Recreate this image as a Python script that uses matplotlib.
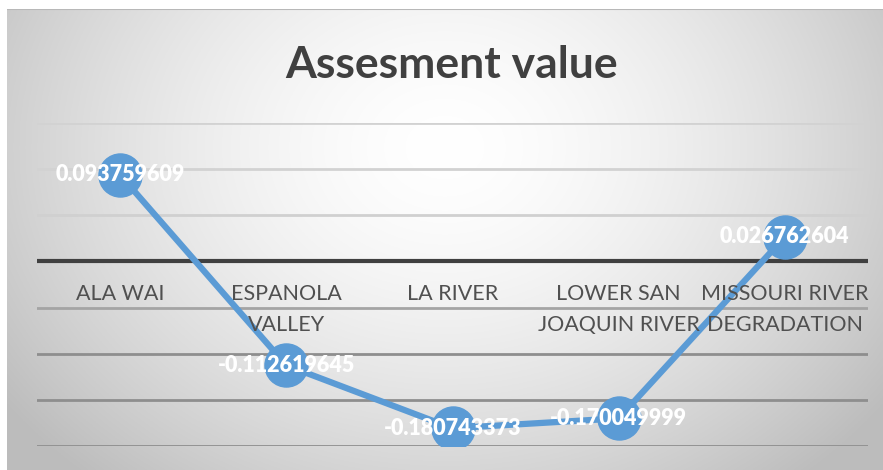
import numpy as np
import matplotlib
matplotlib.use("Agg")
import matplotlib.pyplot as plt
import matplotlib.transforms as mtransforms

# chart data
categories = ["ALA WAI", "ESPANOLA\nVALLEY", "LA RIVER",
              "LOWER SAN\nJOAQUIN RIVER", "MISSOURI RIVER\nDEGRADATION"]
values = [0.093759609, -0.112619645, -0.180743373, -0.170049999, 0.026762604]
value_labels = ["0.093759609", "-0.112619645", "-0.180743373",
                "-0.170049999", "0.026762604"]
grid_levels = [0.15, 0.10, 0.05, -0.05, -0.10, -0.15, -0.20]
grid_colors = ["#d2d2d2", "#d2d2d2", "#d0d0d0", "#a4a4a4", "#8e8e8e", "#8e8e8e", "#8e8e8e"]

W, H = 883, 470
fig = plt.figure(figsize=(W / 100, H / 100), dpi=100)
fig.patch.set_facecolor("white")

# --- radial gradient background of the chart area ---
bg = fig.add_axes([7 / W, 0, (W - 7) / W, (H - 9) / H])
yy, xx = np.mgrid[0:1:300j, 0:1:600j]
r = np.sqrt(((xx - 0.5) / 0.62) ** 2 + ((yy - 0.3) / 0.95) ** 2)
shade = np.clip(1.0 - 0.26 * r ** 1.6, 0.74, 1.0)
bg.imshow(np.dstack([shade] * 3), aspect="auto", extent=[0, 1, 0, 1], origin="upper")
bg.axhline(1, color="#b8b8b8", lw=1.5)
bg.set_axis_off()

# --- plot area ---
ax = fig.add_axes([37 / W, (H - 446) / H, (868 - 37) / W, (446 - 123) / H])
ax.patch.set_alpha(0)
ax.set_xlim(-0.5, len(categories) - 0.5)
ax.set_ylim(-0.2, 0.15)
ax.set_axis_off()

for lvl, c in zip(grid_levels, grid_colors):
    ax.axhline(lvl, color=c, lw=2, zorder=1)
ax.axhline(0, color="#404040", lw=3, zorder=2)

x = np.arange(len(categories))
ax.plot(x, values, color="#5b9bd5", lw=4.5, marker="o", markersize=31,
        markerfacecolor="#5b9bd5", markeredgecolor="#5b9bd5", zorder=3,
        solid_capstyle="round")

for xi, v, lab in zip(x, values, value_labels):
    ax.text(xi, v, lab, ha="center", va="center", color="white",
            fontsize=15.5, fontweight="heavy", family="Lato", zorder=5)

# category labels just under the zero line
offset = mtransforms.ScaledTranslation(0, -23 / 100, fig.dpi_scale_trans)
for xi, cat in zip(x, categories):
    ax.text(xi, 0, cat, ha="center", va="top", color="#505050",
            fontsize=15.5, family="Lato", linespacing=1.65,
            transform=ax.transData + offset, zorder=4)

fig.text(452 / W, 1 - 65 / H, "Assesment value", ha="center", va="center",
         fontsize=32, fontweight="bold", color="#404040", family="Lato")

fig.savefig("out.png", dpi=100)
